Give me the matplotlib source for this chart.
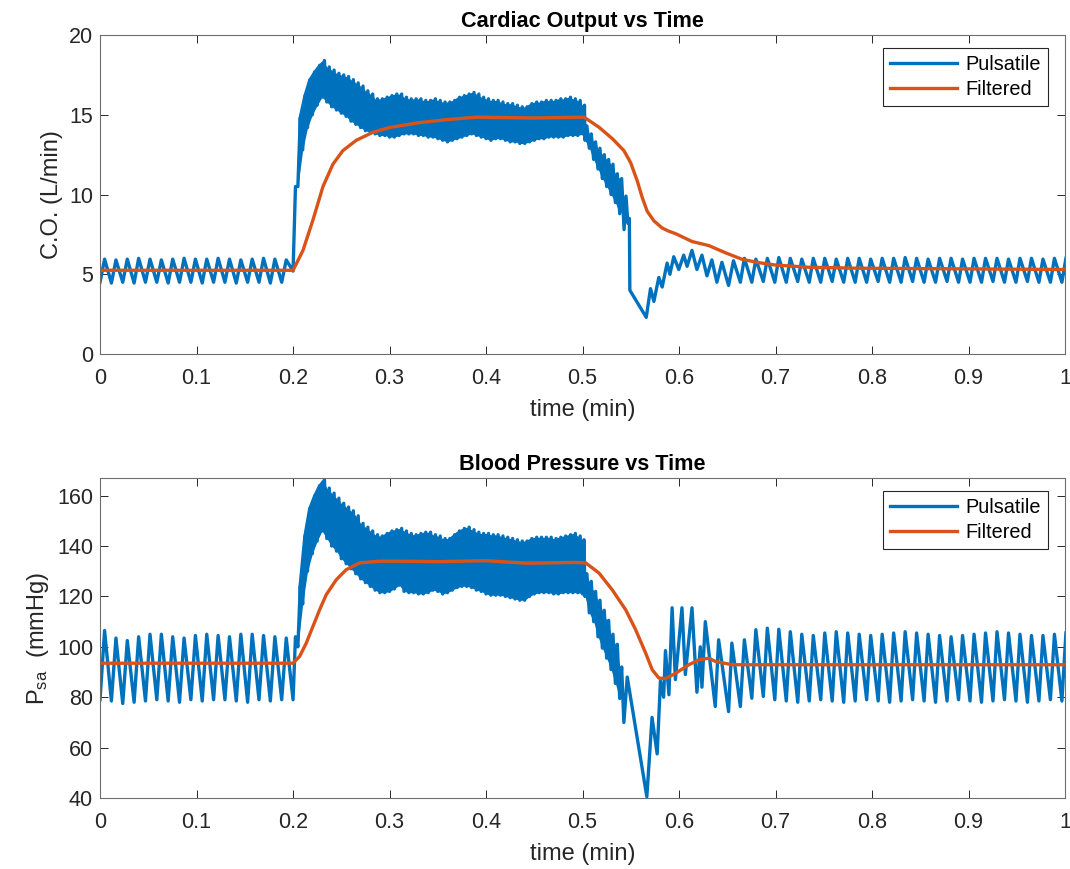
import matplotlib
matplotlib.use("Agg")
import matplotlib.pyplot as plt

plt.rcParams['font.family'] = ['Liberation Sans', 'DejaVu Sans']
plt.rcParams['mathtext.fontset'] = 'custom'
plt.rcParams['mathtext.rm'] = 'Liberation Sans'
plt.rcParams['mathtext.default'] = 'regular'

BLUE = '#0072BD'
ORANGE = '#D95319'

# ---- cardiac output (L/min) ----
# baseline beats 0 - 0.2 min
co_base_hi = [5.95, 5.9, 5.95, 6.0, 5.95, 5.9, 5.95, 6.0, 5.95, 5.95, 6.0, 5.95, 5.9, 5.95, 6.0, 5.95, 5.9]
co_base_lo = [4.5, 4.45, 4.5, 4.45, 4.5, 4.5, 4.45, 4.5, 4.5, 4.45, 4.5, 4.5, 4.45, 4.5, 4.5, 4.45, 4.5]
# fast beats 0.2 - 0.5 min (one pair every 0.005 min)
co_dense_lo = [5.2, 10.5, 12.8, 14.2, 15.0, 15.6, 16.1, 15.8, 15.5, 15.3,
               15.1, 14.9, 14.6, 14.4, 14.2, 14.0, 13.9, 13.8, 13.7, 13.7,
               13.6, 13.6, 13.7, 13.8, 13.8, 13.8, 13.7, 13.7, 13.6, 13.6,
               13.5, 13.4, 13.3, 13.4, 13.5, 13.6, 13.7, 13.8, 13.7, 13.6,
               13.5, 13.4, 13.5, 13.5, 13.4, 13.3, 13.3, 13.2, 13.2, 13.3,
               13.4, 13.5, 13.5, 13.6, 13.6, 13.6, 13.6, 13.7, 13.7, 13.7]
co_dense_hi = [10.5, 14.8, 16.2, 17.2, 17.7, 18.1, 18.4, 18.0, 17.8, 17.6,
               17.5, 17.4, 17.2, 17.0, 16.8, 16.5, 16.3, 16.0, 16.0, 16.1,
               16.2, 16.3, 16.3, 16.1, 16.0, 16.0, 16.0, 15.9, 15.9, 16.0,
               15.9, 15.8, 15.8, 15.9, 16.1, 16.2, 16.3, 16.4, 16.3, 16.1,
               16.0, 15.9, 15.9, 15.8, 15.7, 15.7, 15.6, 15.5, 15.5, 15.7,
               15.8, 15.8, 15.9, 15.9, 15.9, 16.0, 16.0, 16.1, 16.0, 15.9]
# exercise stop and recovery transient (first 20 vertices still fast beats)
co_trans_t = [0.500, 0.502, 0.5025, 0.5045, 0.507, 0.509, 0.5115, 0.5135, 0.516, 0.518,
              0.5205, 0.5225, 0.525, 0.527, 0.5295, 0.5315, 0.534, 0.536, 0.5385, 0.5405,
              0.543, 0.545, 0.547, 0.5485, 0.549, 0.566, 0.5704, 0.5739, 0.579, 0.5825,
              0.5876, 0.5905, 0.5945, 0.5997, 0.6048, 0.6083, 0.6134, 0.6185, 0.6237, 0.6289,
              0.634, 0.6392, 0.6444, 0.6513, 0.6564]
co_trans_v = [13.8, 15.6, 13.4, 14.3, 12.9, 13.8, 12.2, 13.3, 11.6, 12.9,
              11.0, 12.5, 10.5, 12.2, 10.0, 11.9, 9.5, 11.3, 8.8, 11.0,
              7.8, 9.9, 8.2, 8.5, 4.0, 2.3, 4.1, 3.3, 4.8, 4.2,
              5.7, 5.0, 6.1, 5.3, 6.2, 5.5, 6.5, 5.3, 6.2, 4.9,
              5.9, 4.5, 5.75, 4.3, 5.85]
# steady beats after recovery
co_rec_hi = [6.0, 5.95, 6.0, 6.05, 6.0, 5.95, 6.0, 6.0, 5.95, 6.0, 6.0, 5.95, 6.0, 6.0, 6.05,
             6.0, 5.95, 6.0, 6.0, 5.95, 6.0, 6.0, 6.0, 5.95, 6.0, 6.0, 5.95, 6.0, 6.0]
co_rec_lo = [4.5, 4.5, 4.55, 4.5, 4.5, 4.55, 4.5, 4.5, 4.55, 4.5, 4.5, 4.5, 4.55, 4.5, 4.5,
             4.55, 4.5, 4.5, 4.55, 4.5, 4.5, 4.5, 4.55, 4.5, 4.5, 4.55, 4.5, 4.5, 4.5]
co_filt_t = [0, 0.2, 0.2103, 0.2206, 0.231, 0.2413, 0.2516, 0.2655, 0.2827, 0.2999, 0.33, 0.36,
             0.39, 0.45, 0.4985, 0.5016, 0.517, 0.5309, 0.5429, 0.5498, 0.5567, 0.5619, 0.567,
             0.5739, 0.5825, 0.5894, 0.5963, 0.6136, 0.6308, 0.648, 0.6653, 0.6825, 0.6998,
             0.7343, 0.786, 1.0]
co_filt_v = [5.25, 5.25, 6.5, 8.4, 10.5, 11.9, 12.75, 13.4, 13.9, 14.2, 14.5, 14.7,
             14.85, 14.8, 14.85, 14.85, 14.22, 13.5, 12.75, 12.0, 10.85, 9.8, 8.95,
             8.35, 7.9, 7.7, 7.55, 7.05, 6.8, 6.35, 5.94, 5.73, 5.58,
             5.44, 5.38, 5.3]

# ---- systemic arterial pressure (mmHg) ----
bp_base_hi = [106.5, 103.5, 102.5, 104, 105, 105, 104, 103.5, 104.5, 105, 104.5, 104, 105, 105, 104.5, 104, 103.5]
bp_base_lo = [79, 78.5, 77.5, 78, 78.5, 79, 78.5, 78, 79, 78.5, 79, 79, 78.5, 78, 79, 78.5, 79]
bp_dense_lo = [79, 100, 117, 130, 137, 142, 146, 143, 140, 138,
               135, 133, 131, 129, 127, 125.5, 124, 122.5, 121.5, 121.5,
               122, 123, 124.5, 122, 121.5, 121.5, 121, 121, 121.5, 122.5,
               122, 121, 121.5, 122.5, 123.5, 124, 124, 123.5, 122.5, 122,
               121, 120.5, 120.5, 120.5, 120, 119.5, 119, 118.5, 118.5, 120,
               121, 121.5, 121.5, 121.5, 121, 121, 121.5, 121.5, 121.5, 121.5]
bp_dense_hi = [104, 124, 144, 155, 160, 164, 166.5, 163, 161, 159,
               157, 155.5, 154, 152, 149, 147.5, 146, 144.5, 144, 145,
               146, 146.5, 147, 146, 145, 144.5, 145, 145.5, 145.5, 144.5,
               144, 143, 143, 144.5, 146, 147, 147.5, 146.5, 145.5, 145,
               145, 144.5, 144.5, 144, 143.5, 143, 142.5, 142, 142, 143,
               143.5, 143.5, 143.5, 143.5, 143, 143.5, 144, 144.5, 145, 144]
bp_trans_t = [0.500, 0.5015, 0.5025, 0.5045, 0.507, 0.509, 0.5115, 0.5135, 0.516, 0.518,
              0.5205, 0.5225, 0.525, 0.527, 0.5295, 0.5315, 0.534, 0.536, 0.5385, 0.5405,
              0.5428, 0.5463, 0.5666, 0.572, 0.5773, 0.5807, 0.584, 0.5859, 0.5895, 0.5928,
              0.5962, 0.603, 0.6065, 0.6134, 0.6185, 0.622, 0.6237, 0.6272, 0.6375, 0.641,
              0.6513, 0.6547]
bp_trans_v = [121.0, 142.5, 120.0, 129.0, 113.5, 126.0, 110.0, 122.0, 104.0, 118.5,
              99.5, 114.5, 95.5, 110.5, 91.0, 105.0, 85.5, 101.0, 79.5, 92.0,
              70.0, 88.0, 40.5, 72.0, 57.5, 86.5, 80.0, 98.5, 81.0, 115.5,
              87.0, 115.5, 89.0, 115.5, 82.0, 100.0, 84.0, 110.0, 76.3, 102.8,
              74.3, 101.5]
bp_rec_hi = [102.8, 106.8, 107.4, 107, 106, 105, 104.5, 105.5, 106, 105.5, 105, 104.5, 105, 105.5, 106,
             105.5, 105, 104.5, 104, 104.5, 105, 105.5, 106, 105.5, 105, 104.5, 104.5, 105, 105.5]
bp_rec_lo = [76.3, 79.6, 80.3, 79, 78.5, 78, 78.5, 79, 78.5, 78, 78.5, 79, 78.5, 78, 78.5,
             79, 78.5, 78, 78.5, 79, 78.5, 78, 78.5, 79, 78.5, 78, 78.5, 79, 78.5]
bp_filt_t = [0, 0.2, 0.2068, 0.2137, 0.2206, 0.2275, 0.2344, 0.2447, 0.255, 0.2688, 0.2895,
             0.31, 0.35, 0.4, 0.4412, 0.4929, 0.5033, 0.517, 0.5308, 0.5447, 0.555, 0.5654,
             0.5722, 0.5791, 0.586, 0.5964, 0.6101, 0.6205, 0.6308, 0.6377, 0.655, 0.6894, 1.0]
bp_filt_v = [93.5, 93.5, 96.2, 101.5, 108.1, 114.7, 120.7, 126.6, 130.6, 133.3, 134.0,
             134.0, 133.8, 134.2, 133.2, 133.5, 133.3, 129.3, 122.6, 114.7, 106.8, 97.5,
             90.9, 87.6, 87.4, 89.5, 92.9, 94.8, 95.5, 94.2, 92.9, 92.9, 92.9]

BASE_PERIOD = 0.2 / 17
DENSE_PERIOD = 0.005
REC_START = 0.6635
REC_PERIOD = 0.0119
N_FAST = 20   # transient vertices that still blur into a band


def beats(t0, period, lo, hi, rise):
    """zigzag vertices: trough at start of each beat, peak after rise*period"""
    t = []
    v = []
    for k in range(len(hi)):
        t += [t0 + k * period, t0 + (k + rise) * period]
        v += [lo[k], hi[k]]
    return t, v


def draw_pulsatile(ax, base_lo, base_hi, dense_lo, dense_hi, trans_t, trans_v, rec_lo, rec_hi):
    t1, v1 = beats(0.0, BASE_PERIOD, base_lo, base_hi, 0.4)
    t2, v2 = beats(0.2, DENSE_PERIOD, dense_lo, dense_hi, 0.5)
    t4, v4 = beats(REC_START, REC_PERIOD, rec_lo, rec_hi, 0.35)
    ax.plot(t1 + t2 + trans_t + t4, v1 + v2 + trans_v + v4, color=BLUE, lw=2.4, label='Pulsatile')
    # fast beats blur into a solid band at this scale
    band_t = [0.2 + k * DENSE_PERIOD for k in range(1, len(dense_lo))] + trans_t[0:N_FAST:2]
    band_lo = dense_lo[1:] + trans_v[0:N_FAST:2]
    band_hi = dense_hi[1:] + trans_v[1:N_FAST:2]
    ax.fill_between(band_t, band_lo, band_hi, color=BLUE, lw=0)


def style_axes(ax):
    ax.set_xlim(0, 1)
    ax.set_xticks([0, 0.1, 0.2, 0.3, 0.4, 0.5, 0.6, 0.7, 0.8, 0.9, 1])
    ax.set_xticklabels(['0', '0.1', '0.2', '0.3', '0.4', '0.5', '0.6', '0.7', '0.8', '0.9', '1'])
    ax.tick_params(direction='in', length=5.5, width=0.7, colors='#262626', labelsize=15.5,
                   top=True, right=True)
    ax.tick_params(axis='x', pad=10)
    ax.tick_params(axis='y', pad=5)
    for sp in ax.spines.values():
        sp.set_color('#6e6e6e')
        sp.set_linewidth(0.8)
    ax.set_xlabel('time (min)', fontsize=17, color='#262626', labelpad=7)
    leg = ax.legend(loc='upper right', bbox_to_anchor=(0.982, 0.96), borderaxespad=0,
                    fontsize=14.3, fancybox=False, handlelength=3.4, framealpha=1,
                    borderpad=0.35, labelspacing=0.3, handletextpad=0.4)
    leg.get_frame().set_edgecolor('#262626')
    leg.get_frame().set_linewidth(0.8)


fig = plt.figure(figsize=(10.70, 8.69), dpi=100)
ax1 = fig.add_axes([0.0935, 0.5926, 0.9019, 0.3671])
ax2 = fig.add_axes([0.0935, 0.0817, 0.9019, 0.3682])

draw_pulsatile(ax1, co_base_lo, co_base_hi, co_dense_lo, co_dense_hi,
               co_trans_t, co_trans_v, co_rec_lo, co_rec_hi)
ax1.plot(co_filt_t, co_filt_v, color=ORANGE, lw=2.4, label='Filtered')
ax1.set_ylim(0, 20)
ax1.set_yticks([0, 5, 10, 15, 20])
ax1.set_ylabel('C.O. (L/min)', fontsize=17, color='#262626')
ax1.set_title('Cardiac Output vs Time', fontsize=15.6, fontweight='bold', pad=6)
style_axes(ax1)

draw_pulsatile(ax2, bp_base_lo, bp_base_hi, bp_dense_lo, bp_dense_hi,
               bp_trans_t, bp_trans_v, bp_rec_lo, bp_rec_hi)
ax2.plot(bp_filt_t, bp_filt_v, color=ORANGE, lw=2.4, label='Filtered')
ax2.set_ylim(40, 167)
ax2.set_yticks([40, 60, 80, 100, 120, 140, 160])
ax2.set_ylabel('P$_{sa}$  (mmHg)', fontsize=17, color='#262626')
ax2.set_title('Blood Pressure vs Time', fontsize=15.6, fontweight='bold', pad=6)
style_axes(ax2)

fig.savefig('out.png', dpi=100)
